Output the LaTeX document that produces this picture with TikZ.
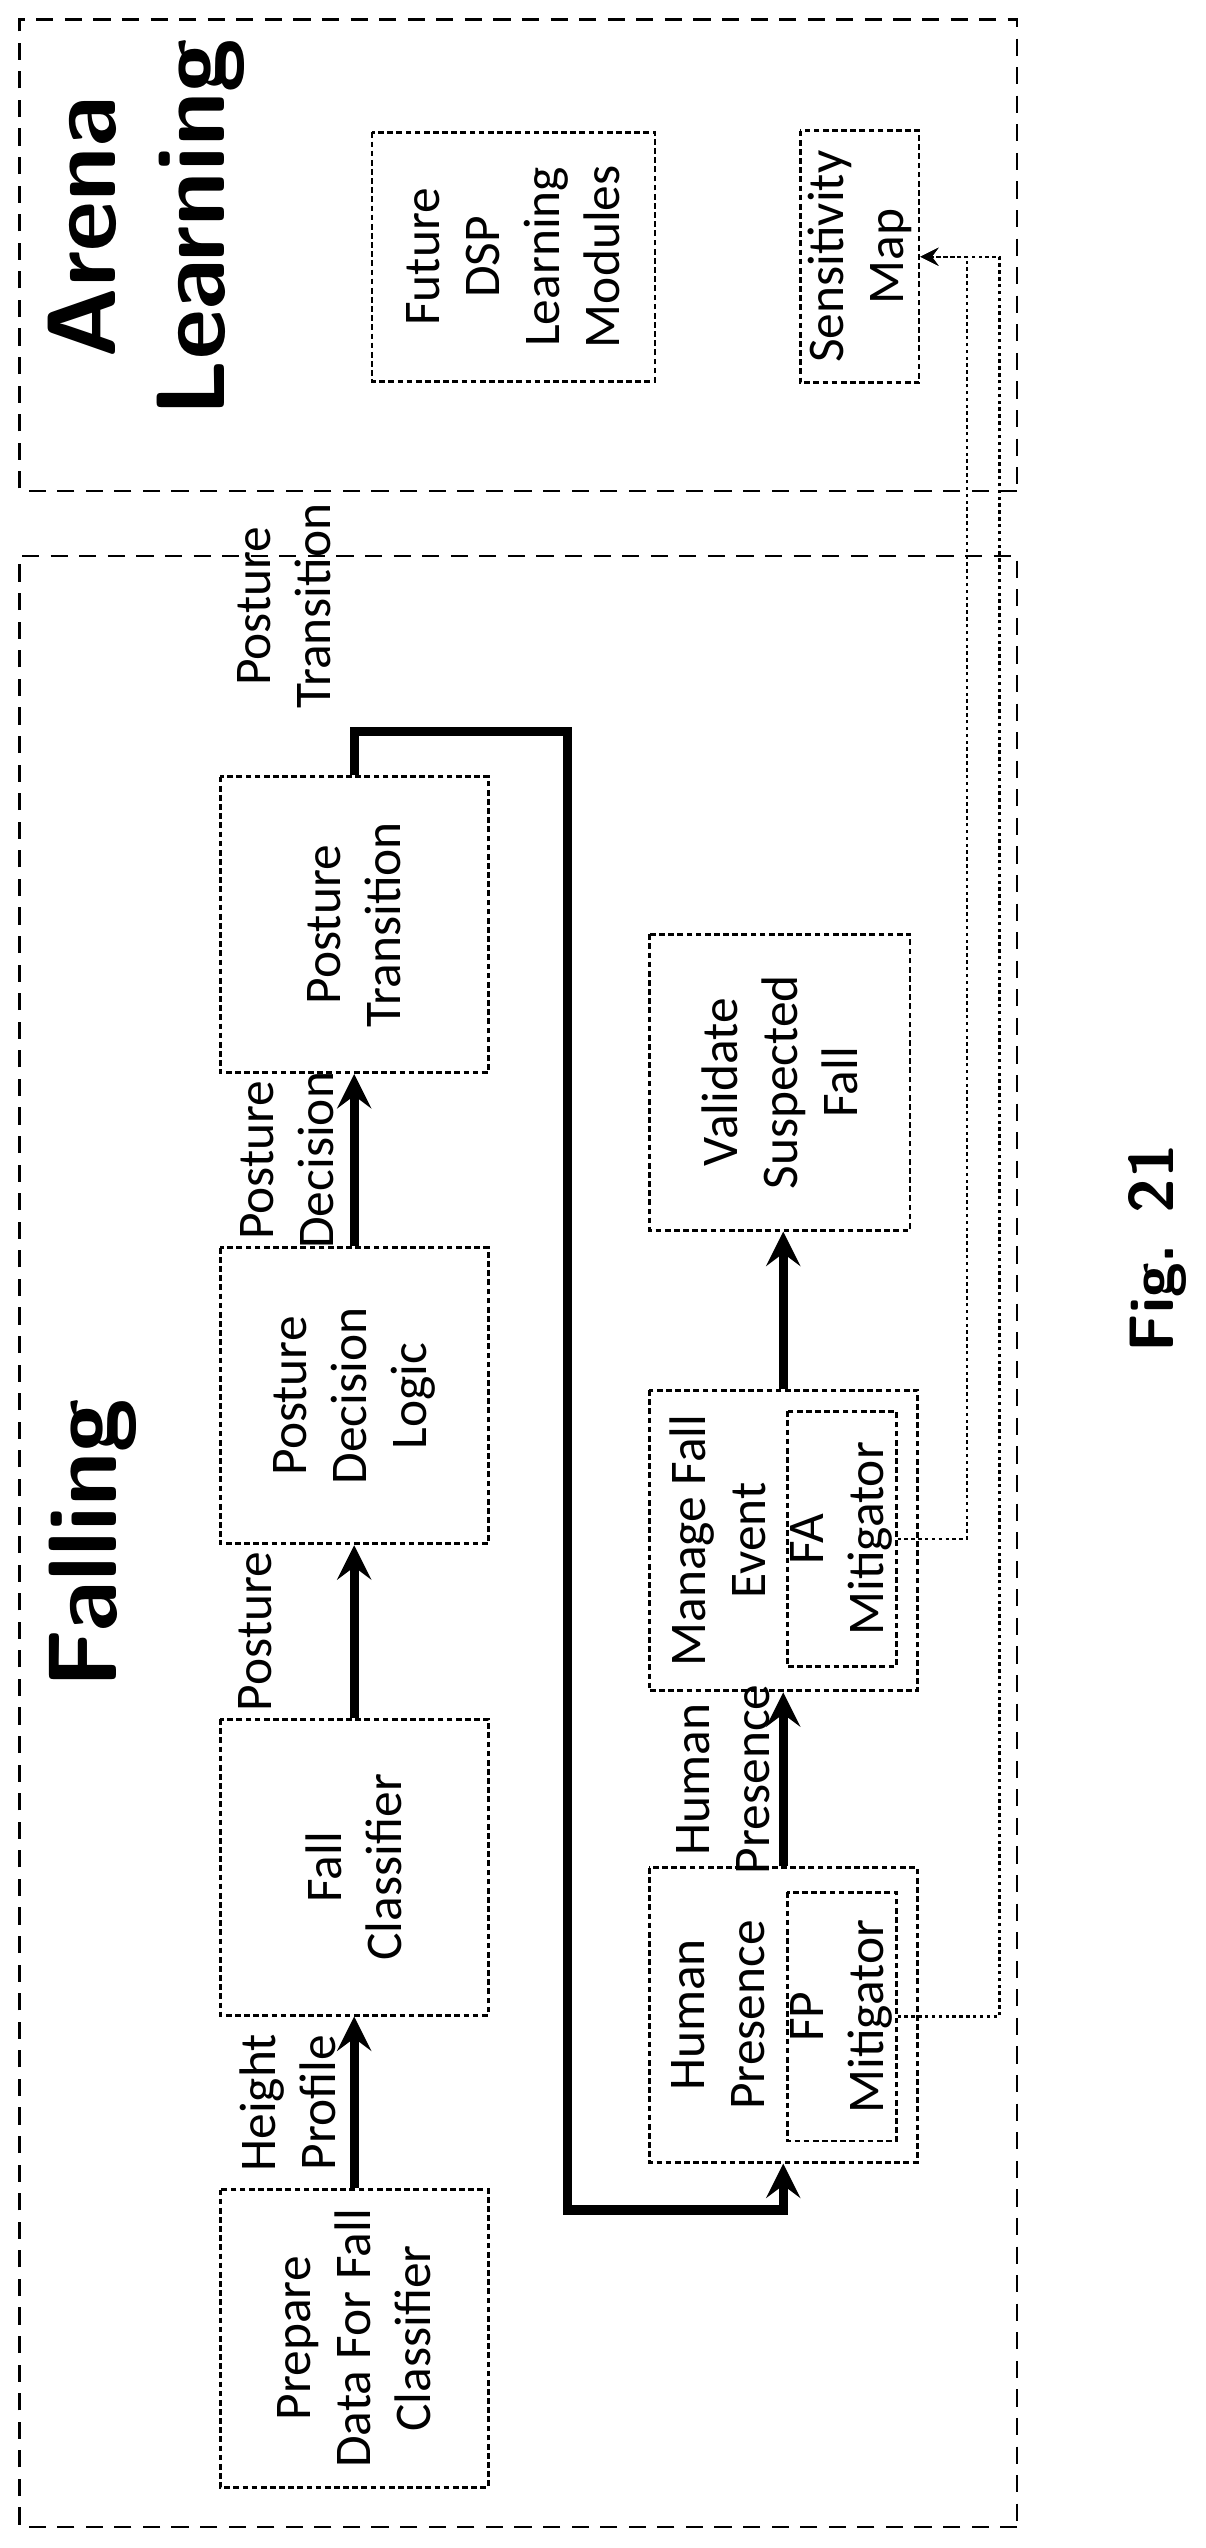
\documentclass[tikz,border=0pt]{standalone}
\usepackage{fontspec}
\setmainfont{Carlito}
\usetikzlibrary{arrows,positioning}

\begin{document}
\begin{tikzpicture}[x=0.01cm,y=0.01cm]
\tikzstyle{blk}=[draw,dash pattern=on 1pt off 0.6pt,line width=0.5pt,align=center,inner sep=0pt,font=\fontsize{9}{10.5}\selectfont]
\tikzstyle{lbl}=[align=center,inner sep=0pt,font=\fontsize{9}{10.5}\selectfont]
\tikzstyle{area}=[draw,dash pattern=on 3pt off 2pt,line width=0.4pt]
\tikzstyle{flow}=[line width=1.6pt,->,>=stealth]
\tikzstyle{thin}=[dash pattern=on 0.6pt off 0.6pt,line width=0.4pt,->,>=stealth]
\begin{scope}[rotate=90,transform shape]
\useasboundingbox (0,0) rectangle (1568,742);
\draw [area] (13,116) rectangle (1226,730);
\draw [area] (1266,116) rectangle (1556,730);
\node [font=\bfseries\sffamily\fontsize{17}{19}\selectfont] (falling) at (618,685) {Falling};
\node [font=\bfseries\sffamily\fontsize{17}{19}\selectfont,align=center] (arena) at (1428,652) {Arena\\Learning};
\node [font=\bfseries\sffamily\fontsize{11}{13}\selectfont] (fig) at (800,30) {Fig. 21};
% upper row
\node [blk,minimum width=1.83cm,minimum height=1.65cm] at (129,524) (prep) {Prepare\\Data For Fall\\Classifier};
\node [blk,minimum width=1.82cm,minimum height=1.65cm] at (419,524) (fc) {Fall\\Classifier};
\node [blk,minimum width=1.82cm,minimum height=1.65cm] at (709,524) (pdl) {Posture\\Decision\\Logic};
\node [blk,minimum width=1.82cm,minimum height=1.65cm] at (999,524) (pt) {Posture\\Transition};
% lower row
\node [blk,minimum width=1.81cm,minimum height=1.65cm] at (328,260) (hp) {};
\node [blk,minimum width=1.53cm,minimum height=0.67cm] at (327,224) (fp) {FP\\Mitigator};
\node [lbl] at (328,300) (hptxt) {Human\\Presence};
\node [blk,minimum width=1.85cm,minimum height=1.65cm] at (620,260) (mfe) {};
\node [blk,minimum width=1.57cm,minimum height=0.67cm] at (621,224) (fa) {FA\\Mitigator};
\node [lbl] at (620,300) (mfetxt) {Manage Fall\\Event};
\node [blk,minimum width=1.82cm,minimum height=1.60cm] at (902,262) (vsf) {Validate\\Suspected\\Fall};
% arena
\node [blk,minimum width=1.53cm,minimum height=1.74cm] at (1410,426) (dsp) {Future\\DSP\\Learning\\Modules};
\node [blk,minimum width=1.55cm,minimum height=0.73cm] at (1410,213) (sens) {Sensitivity\\Map};
% labels
\node [lbl] at (274,565) (hplbl) {Height\\Profile};
\node [lbl] at (564,585) (poslbl) {Posture};
\node [lbl] at (854,565) (pdlbl) {Posture\\Decision};
\node [lbl] at (1195,567) (ptlbl) {Posture\\Transition};
\node [lbl] at (473,297) (hplbl2) {Human\\Presence};
% connectors
\draw [flow] (prep) -- (fc);
\draw [flow] (fc) -- (pdl);
\draw [flow] (pdl) -- (pt);
\draw [flow] (pt.east) -- (1118,524) -- (1118,393) -- (208,393) |- (hp.west);
\draw [flow] (hp.east) -- (mfe.west);
\draw [flow] (mfe.east) -- (vsf.west |- mfe.east);
\coordinate (join) at (1410,127);
\draw [thin] (fp.south) -- (327,127) -- (join) -- (sens.south);
\draw [thin] (fa.south) -- (621,147) -- (1410,147) -- (sens.south);
\end{scope}
\end{tikzpicture}
\end{document}
